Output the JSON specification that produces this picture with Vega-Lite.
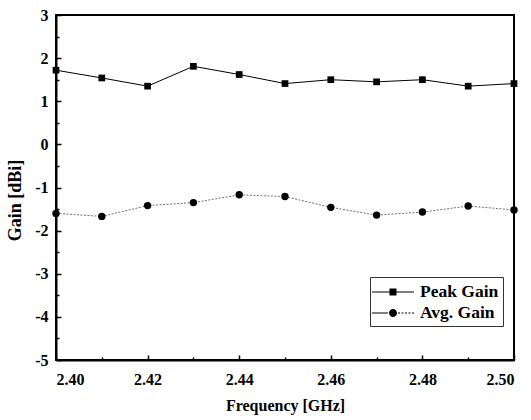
{
  "$schema": "https://vega.github.io/schema/vega-lite/v6.json",
  "width": 458,
  "height": 345,
  "autosize": "none",
  "padding": {"left": 56, "top": 15, "right": 17, "bottom": 60},
  "background": "white",
  "config": {
    "view": {"stroke": "black", "strokeWidth": 2},
    "font": "Liberation Serif",
    "axis": {
      "labelFont": "Liberation Serif", "labelFontWeight": "bold", "labelFontSize": 16, "labelColor": "black",
      "titleFont": "Liberation Serif", "titleFontWeight": "bold", "titleFontSize": 16, "titleColor": "black",
      "domainColor": "black", "domainWidth": 2, "tickColor": "black", "tickWidth": 1.5, "grid": false
    },
    "legend": {
      "labelFont": "Liberation Serif", "labelFontWeight": "bold", "labelFontSize": 17.5, "labelColor": "black"
    }
  },
  "data": {
    "values": [
      {"f": 2.40, "series": "Peak Gain", "gain": 1.72},
      {"f": 2.41, "series": "Peak Gain", "gain": 1.54},
      {"f": 2.42, "series": "Peak Gain", "gain": 1.35},
      {"f": 2.43, "series": "Peak Gain", "gain": 1.81},
      {"f": 2.44, "series": "Peak Gain", "gain": 1.62},
      {"f": 2.45, "series": "Peak Gain", "gain": 1.41},
      {"f": 2.46, "series": "Peak Gain", "gain": 1.50},
      {"f": 2.47, "series": "Peak Gain", "gain": 1.45},
      {"f": 2.48, "series": "Peak Gain", "gain": 1.50},
      {"f": 2.49, "series": "Peak Gain", "gain": 1.35},
      {"f": 2.50, "series": "Peak Gain", "gain": 1.41},
      {"f": 2.40, "series": "Avg. Gain", "gain": -1.60},
      {"f": 2.41, "series": "Avg. Gain", "gain": -1.67},
      {"f": 2.42, "series": "Avg. Gain", "gain": -1.42},
      {"f": 2.43, "series": "Avg. Gain", "gain": -1.35},
      {"f": 2.44, "series": "Avg. Gain", "gain": -1.17},
      {"f": 2.45, "series": "Avg. Gain", "gain": -1.21},
      {"f": 2.46, "series": "Avg. Gain", "gain": -1.46},
      {"f": 2.47, "series": "Avg. Gain", "gain": -1.64},
      {"f": 2.48, "series": "Avg. Gain", "gain": -1.57},
      {"f": 2.49, "series": "Avg. Gain", "gain": -1.43},
      {"f": 2.50, "series": "Avg. Gain", "gain": -1.52}
    ]
  },
  "resolve": {"axis": {"x": "independent", "y": "independent"}},
  "layer": [
    {
      "transform": [{"filter": "datum.series === 'Peak Gain'"}],
      "mark": {"type": "line", "strokeWidth": 1, "color": "black"},
      "encoding": {
        "x": {"field": "f", "type": "quantitative", "scale": {"domain": [2.4, 2.5], "nice": false, "zero": false},
              "axis": {"orient": "bottom", "values": [2.40, 2.42, 2.44, 2.46, 2.48, 2.50], "format": ".2f", "tickSize": -5, "labelPadding": 16, "title": "Frequency [GHz]", "titlePadding": 10}},
        "y": {"field": "gain", "type": "quantitative", "scale": {"domain": [-5, 3], "nice": false, "zero": false},
              "axis": {"orient": "left", "values": [-5, -4, -3, -2, -1, 0, 1, 2, 3], "labelExpr": "toString(datum.value)", "tickSize": -5, "labelPadding": 13, "title": "Gain [dBi]", "titleFontSize": 18, "titleY": 185, "titlePadding": 10}}
      }
    },
    {
      "transform": [{"filter": "datum.series === 'Avg. Gain'"}],
      "mark": {"type": "line", "strokeWidth": 1, "color": "#707070", "strokeDash": [2, 1.5]},
      "encoding": {
        "x": {"field": "f", "type": "quantitative", "axis": null},
        "y": {"field": "gain", "type": "quantitative", "axis": null}
      }
    },
    {
      "transform": [{"filter": "datum.series === 'Peak Gain'"}],
      "mark": {"type": "point", "shape": "square", "filled": true, "color": "black", "size": 45, "opacity": 1},
      "encoding": {
        "x": {"field": "f", "type": "quantitative", "axis": null},
        "y": {"field": "gain", "type": "quantitative", "axis": null}
      }
    },
    {
      "transform": [{"filter": "datum.series === 'Avg. Gain'"}],
      "mark": {"type": "point", "shape": "circle", "filled": true, "color": "black", "size": 55, "opacity": 1},
      "encoding": {
        "x": {"field": "f", "type": "quantitative", "axis": null},
        "y": {"field": "gain", "type": "quantitative", "axis": null}
      }
    },
    {
      "transform": [{"filter": "datum.f > 100"}],
      "mark": {"type": "point", "filled": true, "color": "black", "opacity": 1},
      "encoding": {
        "x": {"field": "f", "type": "quantitative",
              "axis": {"orient": "bottom", "values": [2.41, 2.43, 2.45, 2.47, 2.49], "labels": false, "domain": false, "tickSize": -3, "title": null}},
        "y": {"field": "gain", "type": "quantitative",
              "axis": {"orient": "left", "values": [-4.5, -3.5, -2.5, -1.5, -0.5, 0.5, 1.5, 2.5], "labels": false, "domain": false, "tickSize": -3, "title": null}},
        "shape": {"field": "series", "type": "nominal",
                  "scale": {"domain": ["Peak Gain", "Avg. Gain"], "range": [
                    "M-2.1,-0.06H2.1V0.06H-2.1Z M-0.35,-0.35H0.35V0.35H-0.35Z",
                    "M-2.1,-0.05H-0.5V0.05H-2.1Z M0.5,-0.05H0.7V0.05H0.5Z M0.85,-0.05H1.05V0.05H0.85Z M1.2,-0.05H1.4V0.05H1.2Z M1.55,-0.05H1.75V0.05H1.55Z M1.9,-0.05H2.1V0.05H1.9Z M-0.4,0A0.4,0.4 0 1 0 0.4,0A0.4,0.4 0 1 0 -0.4,0Z"
                  ]},
                  "legend": {"title": null, "orient": "none", "legendX": 314, "legendY": 262, "symbolSize": 400, "symbolOffset": 8, "symbolFillColor": "black", "symbolStrokeColor": "black", "labelOffset": 16, "rowPadding": 1, "padding": 4, "strokeColor": "#333333", "fillColor": "white"}}
      }
    }
  ]
}
